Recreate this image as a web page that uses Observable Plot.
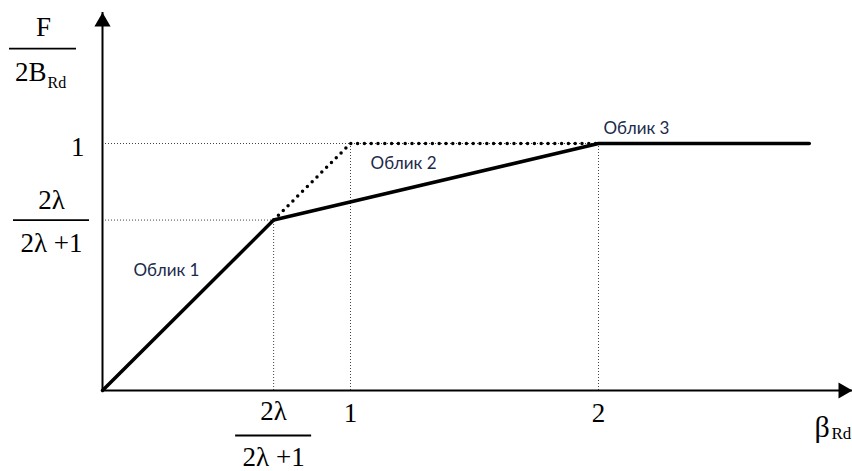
<!DOCTYPE html>
<html>
<head>
<meta charset="utf-8">
<script src="https://cdn.jsdelivr.net/npm/d3@7"></script>
<script src="https://cdn.jsdelivr.net/npm/@observablehq/plot@0.6"></script>
<style>
  html, body { margin: 0; padding: 0; background: #fff; }
  #chart svg { display: block; }
</style>
</head>
<body>
<div id="chart"></div>
<script>
// ---- data ----
const ratio = 0.69;                       // 2λ/(2λ+1)
const solidX = [0, ratio, 2, 2.85];
const solidY = [0, ratio, 1, 1];
const dottedX = [ratio, 1, 2];
const dottedY = [ratio, 1, 1];
const guideX = [ratio, 1, 2];
const guideY = [ratio, 1, 1];
const xTickValues = [1, 2];
const xTickLabels = ["1", "2"];
const yTickValues = [1];
const yTickLabels = ["1"];
const fracNum = "2λ";
const fracDen = "2λ +1";
const regionLabels = ["Облик 1", "Облик 2", "Облик 3"];
const regionX = [0.125, 1.081, 2.02];
const regionY = [0.486, 0.919, 1.059];
const xAxisEnd = 3.024;
const yAxisEnd = 1.53;

const solid = solidX.map((x, i) => ({x, y: solidY[i]}));
const dotted = dottedX.map((x, i) => ({x, y: dottedY[i]}));
const guides = guideX.map((x, i) => ({x, y: guideY[i]}));
const xTicks = xTickValues.map((v, i) => ({v, label: xTickLabels[i]}));
const yTicks = yTickValues.map((v, i) => ({v, label: yTickLabels[i]}));
const regions = regionLabels.map((t, i) => ({t, x: regionX[i], y: regionY[i]}));

const serif = "'Liberation Serif', 'Times New Roman', serif";
const sans = "Lato, 'Open Sans', 'Noto Sans', sans-serif";
const fs = 27;

const chart = Plot.plot({
  width: 852,
  height: 471,
  margin: 0,
  x: {type: "linear", domain: [0, 1], range: [102, 350], axis: null},
  y: {type: "linear", domain: [0, 1], range: [390, 143], axis: null},
  style: {background: "#fff"},
  marks: [
    // thin dotted guides
    Plot.ruleX(guides, {x: "x", y1: 0, y2: "y", stroke: "#444", strokeWidth: 1, strokeDasharray: "1,2"}),
    Plot.ruleY(guides, {y: "y", x1: 0, x2: "x", stroke: "#444", strokeWidth: 1, strokeDasharray: "1,2"}),
    // axes
    Plot.ruleY([0], {x1: 0, x2: xAxisEnd, stroke: "#000", strokeWidth: 2}),
    Plot.ruleX([0], {y1: 0, y2: yAxisEnd, stroke: "#000", strokeWidth: 2}),
    Plot.dot([yAxisEnd], {x: 0, y: d => d, symbol: "triangle", r: 6, fill: "#000", dy: 9.3}),
    Plot.dot([xAxisEnd], {x: d => d, y: 0, symbol: "triangle", r: 6, fill: "#000", rotate: 90, dx: -9.3}),
    // thick dotted line
    Plot.line(dotted, {x: "x", y: "y", stroke: "#000", strokeWidth: 3.5, strokeDasharray: "0,6.8", strokeLinecap: "round"}),
    // main solid line
    Plot.line(solid, {x: "x", y: "y", stroke: "#000", strokeWidth: 3.5, strokeLinejoin: "miter"}),
    // region labels
    Plot.text(regions, {x: "x", y: "y", text: "t", textAnchor: "start", lineAnchor: "middle", fontFamily: sans, fontSize: 17, fill: "#1b2a4a"}),
    // x tick labels
    Plot.text(xTicks, {x: "v", y: 0, text: "label", dy: 23, lineAnchor: "middle", fontFamily: serif, fontSize: fs, fill: "#000"}),
    Plot.text([fracNum], {x: ratio, y: 0, text: d => d, dy: 21, lineAnchor: "middle", fontFamily: serif, fontSize: fs, fill: "#000"}),
    Plot.ruleY([0], {x1: ratio, x2: ratio, insetLeft: -38, insetRight: -38, dy: 45, stroke: "#000", strokeWidth: 1.8}),
    Plot.text([fracDen], {x: ratio, y: 0, text: d => d, dy: 67, lineAnchor: "middle", fontFamily: serif, fontSize: fs, fill: "#000"}),
    // y tick labels
    Plot.text(yTicks, {x: 0, y: "v", text: "label", dx: -18, dy: 4, textAnchor: "end", lineAnchor: "middle", fontFamily: serif, fontSize: fs, fill: "#000"}),
    Plot.text([fracNum], {x: 0, y: ratio, text: d => d, dx: -51, dy: -20, lineAnchor: "middle", fontFamily: serif, fontSize: fs, fill: "#000"}),
    Plot.ruleY([ratio], {x1: 0, x2: 0, insetLeft: -89, insetRight: 13, stroke: "#000", strokeWidth: 1.8}),
    Plot.text([fracDen], {x: 0, y: ratio, text: d => d, dx: -51, dy: 23, lineAnchor: "middle", fontFamily: serif, fontSize: fs, fill: "#000"}),
    // y axis title  F / 2B_Rd
    Plot.text(["F"], {x: 0, y: yAxisEnd, text: d => d, dx: -59, dy: 15, lineAnchor: "middle", fontFamily: serif, fontSize: fs, fill: "#000"}),
    Plot.ruleY([yAxisEnd], {x1: 0, x2: 0, insetLeft: -93, insetRight: 26, dy: 36, stroke: "#000", strokeWidth: 1.8}),
    Plot.text(["2B"], {x: 0, y: yAxisEnd, text: d => d, dx: -56, dy: 60, textAnchor: "end", lineAnchor: "middle", fontFamily: serif, fontSize: fs, fill: "#000"}),
    Plot.text(["Rd"], {x: 0, y: yAxisEnd, text: d => d, dx: -55, dy: 70, textAnchor: "start", lineAnchor: "middle", fontFamily: serif, fontSize: 16, fill: "#000"}),
    // x axis title  β_Rd
    Plot.text(["β"], {x: xAxisEnd, y: 0, text: d => d, dx: -38, dy: 37, textAnchor: "start", lineAnchor: "middle", fontFamily: serif, fontSize: 30, fill: "#000"}),
    Plot.text(["Rd"], {x: xAxisEnd, y: 0, text: d => d, dx: -21, dy: 43, textAnchor: "start", lineAnchor: "middle", fontFamily: serif, fontSize: 17, fill: "#000"})
  ]
});
document.getElementById("chart").append(chart);
</script>
</body>
</html>
